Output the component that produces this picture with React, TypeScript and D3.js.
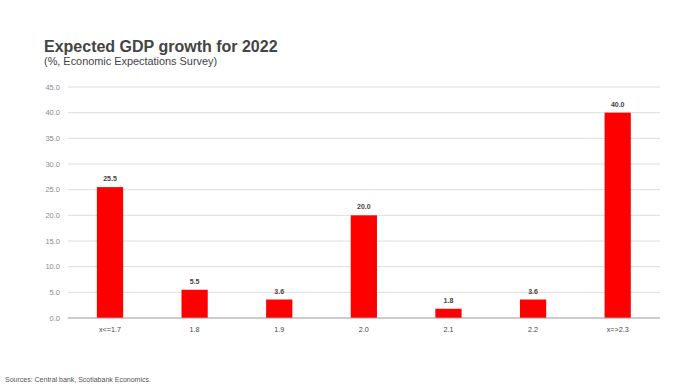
import React from "react";
import * as d3 from "d3";

const categories = ["x<=1.7", "1.8", "1.9", "2.0", "2.1", "2.2", "x=>2.3"];
const values = [25.5, 5.5, 3.6, 20.0, 1.8, 3.6, 40.0];
const yTicks = [0, 5, 10, 15, 20, 25, 30, 35, 40, 45];

export default function App() {
  const W = 694, H = 387;
  const left = 67.7, right = 660, top = 87, bottom = 318;
  const x = d3.scaleBand().domain(categories).range([left, right]).paddingInner(0.69).paddingOuter(0.345);
  const y = d3.scaleLinear().domain([0, 45]).range([bottom, top]);
  const font = "'Liberation Sans', Arial, sans-serif";
  return (
    <svg width={W} height={H} style={{ position: "absolute", left: 0, top: 0 }} fontFamily={font}>
      <rect width={W} height={H} fill="#fff" />
      <text x={44} y={52} fontSize={16} fontWeight="bold" fill="#444">Expected GDP growth for 2022</text>
      <text x={44} y={65} fontSize={10.9} fill="#444">(%, Economic Expectations Survey)</text>
      {yTicks.map((t) => (
        <g key={t}>
          {t > 0 && <line x1={left} x2={right} y1={y(t)} y2={y(t)} stroke="#dedede" strokeWidth={1} />}
          <text x={60} y={y(t)} dy="0.35em" fontSize={7.5} textAnchor="end" fill="#8a8a8a">{t.toFixed(1)}</text>
        </g>
      ))}
      {categories.map((c, i) => (
        <g key={c}>
          <rect x={x(c)} y={y(values[i])} width={x.bandwidth()} height={bottom - y(values[i])} fill="#ff0000" />
          <text x={(x(c) as number) + x.bandwidth() / 2} y={y(values[i]) - 6} fontSize={7} fontWeight="bold" textAnchor="middle" fill="#444">{values[i].toFixed(1)}</text>
          <text x={(x(c) as number) + x.bandwidth() / 2} y={332} fontSize={7.2} textAnchor="middle" fill="#444">{c}</text>
        </g>
      ))}
      <line x1={left} x2={right} y1={bottom} y2={bottom} stroke="#999" strokeWidth={1} />
      <text x={5} y={382} fontSize={7} fill="#555">Sources: Central bank, Scotiabank Economics.</text>
    </svg>
  );
}
